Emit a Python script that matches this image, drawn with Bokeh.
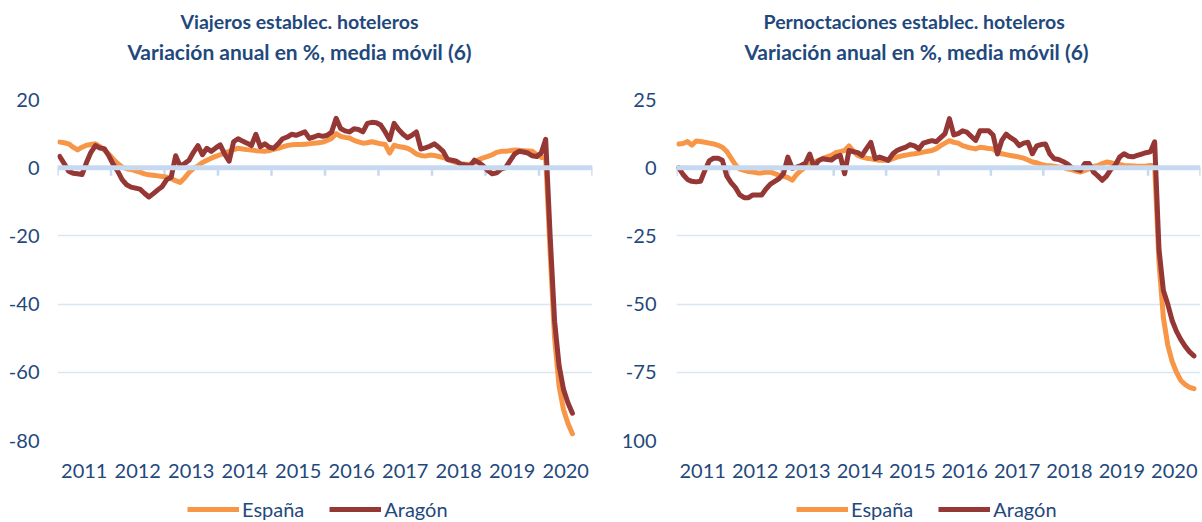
from bokeh.plotting import figure
from bokeh.models import (ColumnDataSource, FixedTicker, Span, Legend, LegendItem,
                          Label, Range1d)
from bokeh.layouts import row, column
from bokeh.embed import file_html
from bokeh.resources import INLINE

# ---------------- data ----------------
years = [2011, 2012, 2013, 2014, 2015, 2016, 2017, 2018, 2019, 2020]
year_labels = [str(y) for y in years]
series_names = ["España", "Aragón"]
# monthly values from Jan 2011

viajeros_espana = [
    7.5, 7.3, 7.0, 6.0, 5.2, 6.0, 6.6, 6.8, 7.0, 6.2, 5.2, 4.0,
    2.5, 1.2, 0.2, -0.3, -0.5, -0.9, -1.3, -1.8, -2.1, -2.2, -2.4, -2.6,
    -2.8, -3.2, -3.8, -4.3, -3.0, -1.4, -0.2, 0.5, 1.5, 2.2, 2.8, 3.3,
    3.8, 4.3, 4.8, 5.3, 5.7, 5.5, 5.3, 5.2, 5.0, 4.9, 4.8, 5.0,
    5.4, 5.7, 6.1, 6.5, 6.7, 6.8, 6.8, 6.9, 7.0, 7.2, 7.3, 7.5,
    8.0, 8.6, 10.0, 9.2, 8.9, 8.7, 8.0, 7.6, 7.2, 7.3, 7.6, 7.3,
    7.0, 6.8, 4.3, 6.6, 6.2, 6.0, 5.7, 5.0, 4.0, 3.6, 3.4, 3.7,
    3.6, 3.3, 3.0, 2.5, 1.9, 1.5, 1.2, 1.0, 1.0, 1.5, 2.4, 2.9,
    3.3, 3.8, 4.5, 4.8, 4.8, 5.0, 5.2, 5.1, 5.0, 4.9, 4.8, 3.8,
    3.0, 3.0, -25.0, -50.0, -64.0, -71.0, -75.0, -78.0,
]
viajeros_aragon = [
    3.3, 1.2, -1.0, -1.6, -1.8, -2.0, 1.5, 4.5, 6.5, 5.8, 5.6, 3.5,
    1.0, -1.0, -3.5, -5.0, -5.7, -6.0, -6.3, -7.5, -8.6, -7.6, -6.5, -5.5,
    -3.5, -2.8, 3.5, 0.5, 1.2, 2.2, 4.5, 6.5, 3.8, 5.7, 4.8, 5.8,
    6.7, 4.0, 1.9, 7.6, 8.5, 7.8, 7.2, 6.5, 9.8, 6.2, 7.0, 6.0,
    5.7, 7.0, 8.5, 9.0, 9.8, 9.5, 10.0, 10.5, 8.6, 9.0, 9.5, 9.2,
    9.5, 10.5, 14.5, 11.5, 10.8, 10.5, 11.4, 11.2, 10.5, 13.0, 13.3, 13.2,
    12.5, 10.5, 8.2, 13.0, 11.2, 9.8, 8.8, 9.5, 10.5, 5.5, 5.8, 6.3,
    7.0, 6.0, 4.8, 2.4, 2.2, 1.9, 1.0, 0.8, 0.5, 2.2, 1.5, 0.5,
    -0.8, -1.8, -1.5, -0.4, 0.0, 2.0, 4.0, 4.8, 4.6, 4.3, 3.5, 3.3,
    4.3, 8.3, -20.0, -45.0, -58.0, -65.0, -69.0, -72.0,
]
pernoct_espana = [
    8.7, 8.9, 9.6, 8.3, 9.8, 9.6, 9.3, 9.0, 8.7, 8.2, 7.5, 6.0,
    3.5, 1.0, -0.5, -1.0, -1.4, -1.6, -1.9, -1.9, -1.7, -1.6, -2.2, -2.8,
    -3.2, -3.6, -4.6, -2.5, -1.0, 0.2, 1.2, 2.0, 2.7, 3.4, 4.0, 4.5,
    5.5, 5.9, 6.3, 8.0, 6.0, 4.5, 3.9, 3.5, 3.3, 3.0, 2.7, 2.7,
    2.7, 3.3, 3.9, 4.3, 4.6, 4.9, 5.1, 5.4, 5.7, 6.0, 6.3, 7.0,
    8.1, 9.0, 9.9, 9.3, 9.0, 8.1, 7.6, 7.2, 6.9, 7.5, 7.3, 7.0,
    6.9, 5.7, 5.1, 4.8, 4.5, 4.2, 3.9, 3.5, 2.8, 2.1, 1.8, 1.2,
    0.8, 0.7, 0.5, 0.3, 0.2, -0.4, -0.8, -1.2, -1.6, -1.0, -0.4, 0.5,
    0.8, 1.5, 2.1, 1.8, 1.4, 1.2, 0.8, 0.7, 0.6, 0.5, 0.5, 0.6,
    0.8, 0.8, -35.0, -55.0, -65.0, -71.0, -75.0, -78.0, -79.5, -80.5, -81.0,
]
pernoct_aragon = [
    0.0, -2.5, -4.3, -5.0, -5.2, -5.0, -1.0, 2.5, 3.5, 3.5, 2.7, -3.0,
    -5.5, -7.3, -10.0, -11.0, -11.0, -10.0, -10.0, -10.0, -7.8, -6.0, -5.0, -4.0,
    -2.2, 3.9, -0.2, 0.2, 0.8, 1.6, 5.0, 0.2, 2.5, 3.3, 3.0, 2.8,
    4.0, 4.5, -2.2, 6.3, 5.9, 5.5, 4.5, 7.0, 9.3, 3.3, 3.9, 3.3,
    2.7, 5.0, 6.3, 7.0, 7.5, 8.5, 8.0, 6.9, 9.0, 9.5, 9.9, 9.5,
    11.0, 12.5, 18.0, 12.0, 12.5, 13.5, 13.0, 11.5, 10.0, 13.5, 13.5, 13.5,
    12.0, 5.0, 10.0, 12.3, 11.0, 10.0, 8.1, 9.0, 9.3, 5.1, 8.0, 8.5,
    8.7, 5.0, 3.3, 3.0, 2.3, 1.4, 0.0, -0.5, -1.0, 1.5, 1.5, -1.6,
    -3.0, -4.6, -3.0, -0.5, 1.0, 3.9, 5.1, 4.2, 4.0, 4.5, 5.0, 5.5,
    5.8, 9.5, -30.0, -45.0, -50.0, -56.0, -60.0, -63.0, -65.5, -67.5, -69.0,
]

left_yticks = [-80, -60, -40, -20, 0, 20]
left_ylabels = ["-80", "-60", "-40", "-20", "0", "20"]
right_yticks = [-100, -75, -50, -25, 0, 25]
right_ylabels = ["100", "-75", "-50", "-25", "0", "25"]

# ---------------- style ----------------
FONT = "Lato"
TXT = "#1F497D"
ORANGE = "#F79646"
DARKRED = "#953735"
GRID = "#DCE6F2"
ZERO = "#C6D9F1"
FH = 341
TOP = 14
TITLE_H = 85
LEG_H = 31


def blank_fig(width, height):
    f = figure(width=width, height=height, x_range=Range1d(0, width),
               y_range=Range1d(0, height), output_backend="svg",
               toolbar_location=None, min_border=0, x_axis_type=None,
               y_axis_type=None)
    f.outline_line_color = None
    f.xgrid.visible = False
    f.ygrid.visible = False
    return f


def make_title(t1, t2, width, cx):
    f = blank_fig(width, TITLE_H)
    for txt, y, fs in ((t1, TITLE_H - 21, "19.5px"), (t2, TITLE_H - 51, "21px")):
        f.add_layout(Label(x=cx, y=y, text=txt, text_align="center",
                           text_baseline="middle", text_font=FONT,
                           text_font_size=fs, text_font_style="bold",
                           text_color=TXT))
    return f


def make_legend(width, lx):
    f = blank_fig(width, LEG_H)
    items = []
    nan = float("nan")
    for name, col in zip(series_names, (ORANGE, DARKRED)):
        r = f.line(x=[nan, nan], y=[nan, nan], line_color=col, line_width=5)
        items.append(LegendItem(label=name, renderers=[r]))
    f.add_layout(Legend(items=items, orientation="horizontal", location=(lx, 0),
                        border_line_color=None, background_fill_alpha=0,
                        label_text_font=FONT, label_text_font_size="20px",
                        label_text_color=TXT, glyph_width=52, glyph_height=20,
                        spacing=25, label_standoff=3, padding=0, margin=0))
    return f


def make_chart(esp, ara, yticks, ylabels, fw, bl, br, ystand):
    ymin, ymax = yticks[0], yticks[-1]
    p = figure(frame_width=fw, frame_height=FH, x_range=Range1d(0, 12 * len(years)),
               y_range=Range1d(ymin, ymax), output_backend="svg",
               toolbar_location=None, min_border_left=bl, min_border_right=br,
               min_border_top=TOP, min_border_bottom=50)
    p.outline_line_color = None

    xt = [12 * k + 6 for k in range(len(years))]
    p.xaxis.ticker = FixedTicker(ticks=xt)
    p.xaxis.major_label_overrides = {t: lab for t, lab in zip(xt, year_labels)}
    p.xaxis.axis_line_color = None
    p.xaxis.major_tick_line_color = None
    p.xaxis.minor_tick_line_color = None
    p.xaxis.major_tick_out = 0
    p.xaxis.major_tick_in = 0
    p.xaxis.major_label_standoff = 23
    p.xaxis.major_label_text_font = FONT
    p.xaxis.major_label_text_font_size = "20px"
    p.xaxis.major_label_text_color = TXT

    p.yaxis.ticker = FixedTicker(ticks=yticks)
    p.yaxis.major_label_overrides = {t: lab for t, lab in zip(yticks, ylabels)}
    p.yaxis.axis_line_color = None
    p.yaxis.major_tick_line_color = None
    p.yaxis.minor_tick_line_color = None
    p.yaxis.major_tick_out = 0
    p.yaxis.major_tick_in = 0
    p.yaxis.major_label_standoff = ystand
    p.yaxis.major_label_text_font = FONT
    p.yaxis.major_label_text_font_size = "20px"
    p.yaxis.major_label_text_color = TXT

    p.xgrid.visible = False
    p.ygrid.ticker = FixedTicker(ticks=yticks)
    p.ygrid.grid_line_color = GRID
    p.ygrid.grid_line_width = 1.5

    p.add_layout(Span(location=0, dimension="width", line_color=ZERO, line_width=5))
    bounds = [12 * k for k in range(len(years) + 1)]
    tick_len = 8 * (ymax - ymin) / float(FH)
    p.segment(x0=bounds, y0=[0] * len(bounds), x1=bounds, y1=[-tick_len] * len(bounds),
              line_color=ZERO, line_width=2.5)

    x = [m + 0.5 for m in range(len(esp))]
    src = ColumnDataSource(dict(x=x, esp=esp, ara=ara))
    p.line("x", "esp", source=src, line_color=ORANGE, line_width=5,
           line_join="round", line_cap="round")
    p.line("x", "ara", source=src, line_color=DARKRED, line_width=5,
           line_join="round", line_cap="round")
    return p


W1, W2 = 600, 601
t1 = make_title("Viajeros establec. hoteleros",
                "Variación anual en %, media móvil (6)", W1, 299)
t2 = make_title("Pernoctaciones  establec. hoteleros",
                "Variación anual en %, media móvil (6)", W2, 316)
p1 = make_chart(viajeros_espana, viajeros_aragon, left_yticks, left_ylabels,
                535, 57, 8, 18)
p2 = make_chart(pernoct_espana, pernoct_aragon, right_yticks, right_ylabels,
                524, 76, 1, 20)
l1 = make_legend(W1, 187)
l2 = make_legend(W2, 196)

layout = column(row(t1, t2), row(p1, p2), row(l1, l2))
open("out.html", "w").write(file_html(layout, INLINE))
